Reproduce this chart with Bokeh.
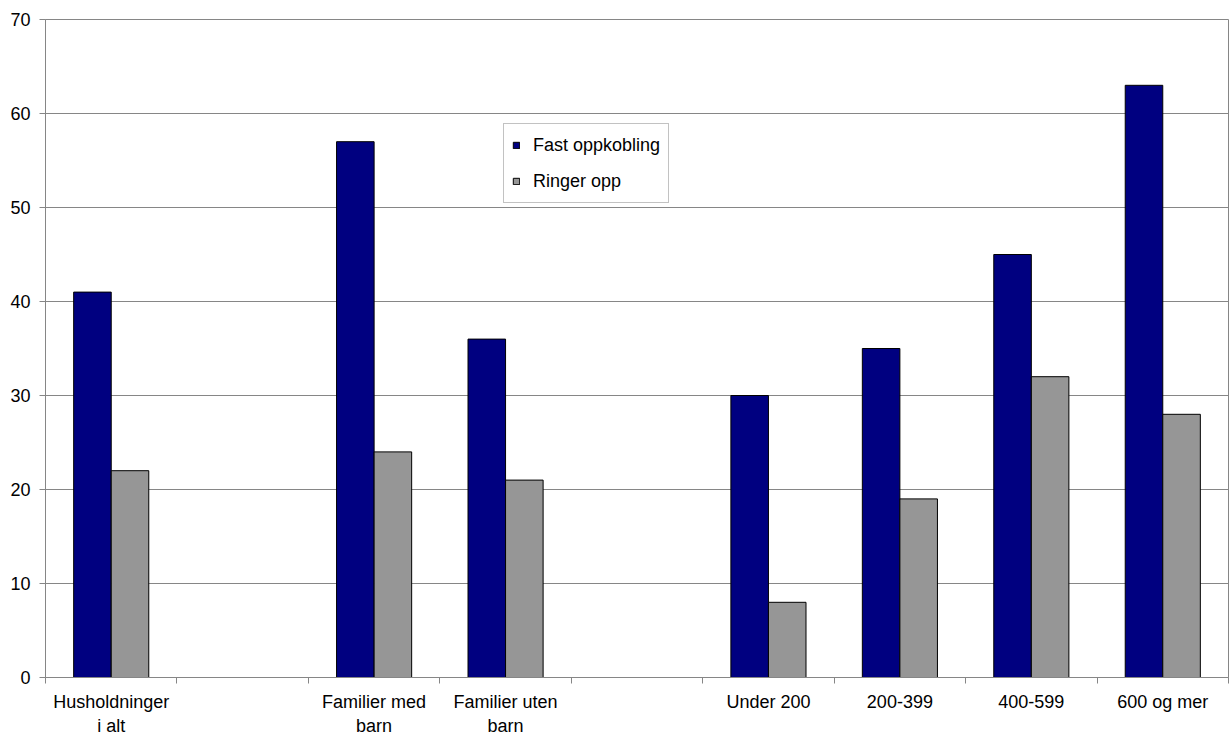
from bokeh.plotting import figure
from bokeh.models import ColumnDataSource, FixedTicker, Range1d, Legend, LegendItem
from bokeh.transform import dodge
from bokeh.embed import file_html
from bokeh.resources import INLINE

# ---- data ----
categories = ["Husholdninger\ni alt", "", "Familier med\nbarn", "Familier uten\nbarn", "",
              "Under 200", "200-399", "400-599", "600 og mer"]
fast_oppkobling = [41, None, 57, 36, None, 30, 35, 45, 63]
ringer_opp = [22, None, 24, 21, None, 8, 19, 32, 28]
series_names = ["Fast oppkobling", "Ringer opp"]
y_ticks = [0, 10, 20, 30, 40, 50, 60, 70]

NAVY = "#000080"
GREY = "#969696"
AXIS = "#868686"
FONT = "Liberation Sans"
FS = "18px"

# category slots: slot i spans [i, i+1]
xs, f_vals, r_vals = [], [], []
for i, (f, r) in enumerate(zip(fast_oppkobling, ringer_opp)):
    if f is None:
        continue
    xs.append(i + 0.5)
    f_vals.append(f)
    r_vals.append(r)
src = ColumnDataSource(dict(x=xs, fast=f_vals, ringer=r_vals))

p = figure(width=1229, height=738, output_backend="svg", toolbar_location=None,
           x_range=Range1d(0, len(categories)), y_range=Range1d(0, 70),
           min_border_left=45, min_border_right=1, min_border_top=19, min_border_bottom=61)

bw = 1 / 3.5
r1 = p.vbar(x=dodge("x", -bw / 2), top="fast", width=bw, source=src,
            fill_color=NAVY, line_color="black", line_width=1)
r2 = p.vbar(x=dodge("x", bw / 2), top="ringer", width=bw, source=src,
            fill_color=GREY, line_color="black", line_width=1)

legend = Legend(items=[LegendItem(label=series_names[0], renderers=[r1]),
                       LegendItem(label=series_names[1], renderers=[r2])],
                location=(458, 474), orientation="vertical",
                padding=8, spacing=10, glyph_width=8, glyph_height=8,
                label_height=26, label_standoff=13, margin=0,
                border_line_color=AXIS, border_line_width=1,
                background_fill_color="white", background_fill_alpha=1,
                label_text_font=FONT, label_text_font_size=FS, label_text_color="black")
p.add_layout(legend, "center")

# x axis
xa = p.xaxis[0]
xa.ticker = FixedTicker(ticks=[i + 0.5 for i in range(len(categories))],
                        minor_ticks=list(range(len(categories) + 1)))
xa.major_label_overrides = {i + 0.5: c for i, c in enumerate(categories)}
xa.major_tick_out = 0
xa.major_tick_in = 0
xa.minor_tick_out = 6
xa.minor_tick_in = 0
xa.minor_tick_line_color = AXIS
xa.axis_line_color = AXIS
xa.major_label_standoff = 8
xa.major_label_text_font = FONT
xa.major_label_text_font_size = FS
xa.major_label_text_color = "black"

# y axis
ya = p.yaxis[0]
ya.ticker = FixedTicker(ticks=y_ticks)
ya.major_tick_out = 6
ya.major_tick_in = 0
ya.minor_tick_line_color = None
ya.major_tick_line_color = AXIS
ya.axis_line_color = AXIS
ya.major_label_standoff = 9
ya.major_label_text_font = FONT
ya.major_label_text_font_size = FS
ya.major_label_text_color = "black"

p.xgrid.grid_line_color = None
p.ygrid.grid_line_color = AXIS
p.ygrid.ticker = FixedTicker(ticks=y_ticks)
p.outline_line_color = AXIS
p.outline_line_width = 1
p.background_fill_color = "white"
p.border_fill_color = "white"

open("out.html", "w").write(file_html(p, INLINE))
